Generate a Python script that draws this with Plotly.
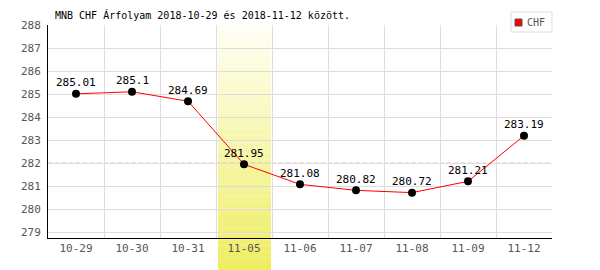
import plotly.graph_objects as go

dates = ["10-29", "10-30", "10-31", "11-05", "11-06", "11-07", "11-08", "11-09", "11-12"]
chf = [285.01, 285.1, 284.69, 281.95, 281.08, 280.82, 280.72, 281.21, 283.19]
ref_level = 282.0
highlight = "11-05"
series_name = "CHF"
title = "MNB CHF Árfolyam 2018-10-29 és 2018-11-12 között."

FONT = "DejaVu Sans Mono"
W, H = 600, 270
ML, MR, MT, MB = 48, 48, 25, 32
plot_w = W - ML - MR
plot_h = H - MT - MB

def px_x(p):
    return (p - ML) / plot_w

def px_y(p):
    return (H - MB - p) / plot_h

fig = go.Figure()

fig.add_trace(go.Scatter(
    x=dates, y=chf, mode="lines+markers",
    line=dict(color="#ff0000", width=1),
    marker=dict(color="#000000", size=8),
    showlegend=False, cliponaxis=False,
))

for d, v in zip(dates, chf):
    fig.add_annotation(x=d, y=v, text=f"{v:g}", showarrow=False, yshift=11,
                       xanchor="center", yanchor="middle",
                       font=dict(family=FONT, size=11, color="#000000"))

# gradient highlight band
hi = dates.index(highlight)
x0 = hi - 0.5 + 2 / 56
x1 = hi + 0.5 - 1 / 56
n = 40
ybot = -MB / plot_h
top_c = (255, 255, 246)
bot_c = (239, 237, 96)
for i in range(n):
    f0 = i / n
    f1 = (i + 1) / n
    t = (i + 0.5) / n
    c = tuple(round(top_c[k] + (bot_c[k] - top_c[k]) * t) for k in range(3))
    fig.add_shape(type="rect", xref="x", yref="paper",
                  x0=x0, x1=x1, y0=1 - f1 * (1 - ybot), y1=1 - f0 * (1 - ybot),
                  fillcolor=f"rgb{c}", line=dict(width=0), layer="between")

fig.add_shape(type="line", xref="paper", yref="y", x0=0, x1=1, y0=ref_level, y1=ref_level,
              line=dict(color="#f09898", width=1, dash="4px,3px"), layer="between")

# legend box
fig.add_shape(type="rect", xref="paper", yref="paper",
              x0=px_x(511), x1=px_x(552), y0=px_y(32), y1=px_y(12),
              fillcolor="white", line=dict(color="#dddddd", width=1), layer="above")
fig.add_shape(type="rect", xref="paper", yref="paper",
              x0=px_x(515), x1=px_x(522), y0=px_y(26), y1=px_y(19),
              fillcolor="#ff0000", line=dict(color="#555555", width=1), layer="above")
fig.add_annotation(xref="paper", yref="paper", x=px_x(525), y=px_y(22.5),
                   text=series_name, showarrow=False, xanchor="left", yanchor="middle",
                   font=dict(family=FONT, size=10, color="#555555"))

fig.update_layout(
    width=W, height=H,
    margin=dict(l=ML, r=MR, t=MT, b=MB),
    paper_bgcolor="white", plot_bgcolor="white",
    font=dict(family=FONT, size=10, color="#555555"),
    showlegend=False,
    title=dict(text=title, x=55 / W, xref="container", xanchor="left",
               y=1 - 15 / H, yref="container", yanchor="middle",
               font=dict(family=FONT, size=10, color="#000000")),
    xaxis=dict(type="category", tickson="boundaries", range=[-0.5, len(dates) - 0.5],
               showgrid=True, gridcolor="#dddddd", gridwidth=1,
               showline=True, linecolor="#000000", linewidth=1,
               ticks="", tickfont=dict(family=FONT, size=11, color="#555555"),
               fixedrange=True),
    yaxis=dict(range=[278.75, 288], dtick=1, tick0=279,
               showgrid=True, gridcolor="#dddddd", gridwidth=1,
               showline=True, linecolor="#000000", linewidth=1,
               ticks="", tickfont=dict(family=FONT, size=11, color="#555555"),
               zeroline=False, ticklabelstandoff=4),
)

fig.write_html("out.html")
